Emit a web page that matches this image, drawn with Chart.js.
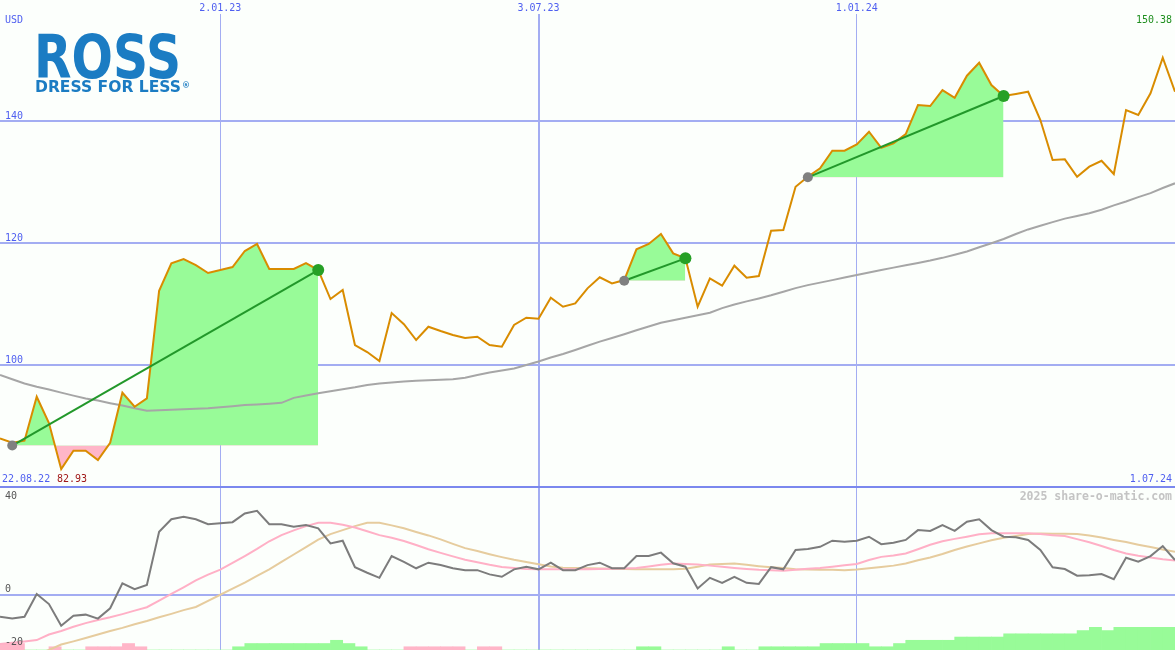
<!DOCTYPE html>
<html>
<head>
<meta charset="utf-8">
<script src="https://cdn.jsdelivr.net/npm/chart.js@4.4.1/dist/chart.umd.min.js"></script>
<style>
  html, body { margin: 0; padding: 0; background: #fcfffc; }
  #wrap { position: relative; width: 1175px; height: 650px; overflow: hidden; background: #fcfffc; }
  canvas { position: absolute; left: 0; display: block; }
  #priceChart { top: 0; }
  #oscChart { top: 488px; }
</style>
</head>
<body>
<div id="wrap">
  <canvas id="priceChart" width="1175" height="488"></canvas>
  <canvas id="oscChart" width="1175" height="162"></canvas>
</div>
<script>
// weekly points, 22.08.22 .. 1.07.24
const xTickIdx = [18, 44, 70];
const xTickLabels = ['2.01.23', '3.07.23', '1.01.24'];
const firstDate = '22.08.22';
const lastDate = '1.07.24';
const priceTicks = [100, 120, 140];
const oscTicks = [40, 0, -20];

const closePrices = [
  87.98, 87.26, 87.59, 94.80, 90.49, 82.93, 85.95, 85.95, 84.43, 87.26,
  95.46, 93.16, 94.54, 112.18, 116.67, 117.38, 116.39, 115.08, 115.57, 116.07,
  118.69, 119.84, 115.74, 115.74, 115.74, 116.72, 115.57, 110.82, 112.30, 103.28,
  102.13, 100.66, 108.52, 106.70, 104.10, 106.28, 105.57, 104.92, 104.43, 104.64,
  103.28, 103.00, 106.56, 107.75, 107.59, 111.03, 109.56, 110.11, 112.57, 114.38,
  113.39, 113.93, 118.97, 119.84, 121.48, 118.31, 117.49, 109.56, 114.21, 113.00,
  116.28, 114.31, 114.59, 122.02, 122.13, 129.23, 130.87, 132.25, 135.13, 135.13,
  136.18, 138.25, 135.62, 136.34, 137.87, 142.62, 142.46, 145.08, 143.82, 147.43,
  149.56, 145.90, 144.10, 144.43, 144.80, 140.16, 133.61, 133.72, 130.87, 132.51,
  133.49, 131.31, 141.80, 140.98, 144.54, 150.38, 144.80
];

const avgLine = [
  98.36, 97.66, 96.98, 96.43, 95.98, 95.48, 94.98, 94.51, 94.18, 93.75,
  93.36, 92.92, 92.51, 92.57, 92.66, 92.74, 92.84, 92.92, 93.07, 93.23,
  93.43, 93.54, 93.67, 93.80, 94.62, 95.00, 95.36, 95.69, 96.02, 96.34,
  96.72, 96.98, 97.15, 97.31, 97.41, 97.49, 97.59, 97.67, 97.93, 98.36,
  98.77, 99.10, 99.44, 100.00, 100.59, 101.23, 101.80, 102.46, 103.15, 103.84,
  104.44, 105.05, 105.70, 106.31, 106.93, 107.34, 107.74, 108.15, 108.57, 109.33,
  109.92, 110.43, 110.92, 111.43, 112.02, 112.61, 113.10, 113.51, 113.92, 114.34,
  114.77, 115.18, 115.57, 115.97, 116.34, 116.74, 117.13, 117.57, 118.08, 118.62,
  119.30, 119.97, 120.66, 121.48, 122.23, 122.82, 123.43, 124.00, 124.44, 124.89,
  125.46, 126.18, 126.80, 127.52, 128.18, 129.02, 129.79
];

// trades: entry / exit week and price
const tradeEntryIdx = [1, 51, 66];
const tradeExitIdx = [26, 56, 82];
const tradeEntryPrice = [86.8, 113.82, 130.77];
const tradeExitPrice = [115.57, 117.49, 144.10];

const oscLine = [
  -8.2, -8.9, -8.2, 0.4, -3.4, -11.6, -7.8, -7.4, -8.9, -5.0,
  4.4, 2.2, 3.8, 23.9, 28.6, 29.5, 28.6, 26.7, 27.1, 27.5,
  30.8, 31.8, 26.7, 26.7, 25.8, 26.4, 25.2, 19.5, 20.5, 10.5,
  8.4, 6.5, 14.7, 12.5, 10.1, 12.2, 11.3, 10.1, 9.4, 9.4,
  7.8, 6.9, 9.7, 10.7, 9.7, 12.2, 9.4, 9.4, 11.3, 12.2,
  10.1, 10.1, 14.7, 14.7, 16.0, 12.0, 10.7, 2.5, 6.5, 4.6,
  6.9, 4.6, 4.2, 10.5, 9.7, 17.0, 17.4, 18.2, 20.5, 20.1,
  20.5, 22.0, 19.2, 19.7, 20.8, 24.5, 24.2, 26.4, 24.2, 27.7,
  28.6, 24.5, 22.0, 21.8, 20.8, 17.0, 10.5, 9.8, 7.3, 7.5,
  7.9, 6.0, 14.1, 12.6, 14.7, 18.5, 13.2
];

const oscSignal = [
  -18.5, -18.0, -17.5, -17.0, -14.9, -13.6, -12.0, -10.6, -9.4, -8.4,
  -7.2, -5.9, -4.6, -2.1, 0.4, 2.9, 5.5, 7.7, 9.6, 12.1,
  14.7, 17.4, 20.3, 22.6, 24.4, 26.0, 27.3, 27.3, 26.5, 25.5,
  24.1, 22.6, 21.6, 20.4, 18.9, 17.3, 15.9, 14.6, 13.3, 12.4,
  11.4, 10.6, 10.2, 9.8, 9.7, 9.7, 9.7, 9.7, 9.7, 9.8,
  9.9, 10.0, 10.2, 10.8, 11.4, 11.9, 11.7, 11.5, 11.1, 10.7,
  10.2, 9.8, 9.5, 9.4, 9.2, 9.5, 9.9, 10.2, 10.7, 11.2,
  11.7, 13.2, 14.4, 14.9, 15.7, 17.3, 19.0, 20.3, 21.2, 22.0,
  22.9, 23.3, 23.3, 23.3, 23.3, 23.0, 22.6, 22.3, 21.1, 19.9,
  18.5, 17.0, 15.7, 14.8, 14.2, 13.5, 13.0
];

const oscSlow = [
  -28.6, -26.7, -24.6, -22.6, -20.7, -18.7, -17.5, -16.2, -14.9, -13.6,
  -12.4, -11.0, -9.8, -8.4, -7.1, -5.7, -4.5, -2.2, 0.1, 2.4,
  4.7, 7.2, 9.7, 12.5, 15.3, 18.1, 20.9, 23.0, 24.5, 26.0,
  27.3, 27.3, 26.3, 25.2, 23.8, 22.5, 21.0, 19.3, 17.7, 16.6,
  15.4, 14.3, 13.3, 12.5, 11.6, 10.8, 10.3, 10.2, 10.1, 10.0,
  9.9, 9.8, 9.7, 9.7, 9.7, 9.7, 9.9, 10.7, 11.5, 11.7,
  11.9, 11.4, 10.9, 10.5, 10.2, 9.7, 9.6, 9.5, 9.5, 9.4,
  9.6, 10.1, 10.6, 11.1, 11.9, 13.1, 14.2, 15.5, 17.0, 18.3,
  19.5, 20.7, 21.6, 22.3, 23.0, 23.2, 23.1, 23.1, 23.0, 22.5,
  21.7, 20.8, 20.0, 19.0, 18.1, 17.2, 16.3
];

// small strength bars along the bottom (negative = pink)
const histBars = [
  -2, -2, 0, 0, -1, 0, 0, -1, -1, -1,
  -2, -1, 0, 0, 0, 0, 0, 0, 0, 1,
  2, 2, 2, 2, 2, 2, 2, 3, 2, 1,
  0, 0, 0, -1, -1, -1, -1, -1, 0, -1,
  -1, 0, 0, 0, 0, 0, 0, 0, 0, 0,
  0, 0, 1, 1, 0, 0, 0, 0, 0, 1,
  0, 0, 1, 1, 1, 1, 1, 2, 2, 2,
  2, 1, 1, 2, 3, 3, 3, 3, 4, 4,
  4, 4, 5, 5, 5, 5, 5, 5, 6, 7,
  6, 7, 7, 7, 7, 7, 7
];

const BG = '#fcfffc';
const GRID = '#a3adf2';
const LBL = '#4f5ff0';
const GREEN_FILL = '#98fb98';
const PINK_FILL = '#ffb6c8';
const FONT = '10px "DejaVu Sans Mono", monospace';

const pts = arr => arr.map((v, i) => ({ x: i, y: v }));
const maxPrice = Math.max(...closePrices);
const minPrice = Math.min(...closePrices);

const xScale = () => ({
  type: 'linear', min: 0, max: 96, offset: false,
  afterBuildTicks: s => { s.ticks = xTickIdx.map(v => ({ value: v })); },
  afterFit: s => { s.height = 0; },
  ticks: { display: false },
  border: { display: false },
  grid: { offset: false, color: GRID, lineWidth: c => (c.index === 1 ? 2 : 1), drawTicks: false }
});

// price panel datasets
const priceSets = [];
tradeEntryIdx.forEach((a, t) => {
  const b = tradeExitIdx[t];
  priceSets.push({
    data: closePrices.slice(a, b + 1).map((v, k) => ({ x: a + k, y: v })),
    borderColor: 'rgba(0,0,0,0)', borderWidth: 0, pointRadius: 0,
    fill: { target: { value: tradeEntryPrice[t] }, above: GREEN_FILL, below: PINK_FILL },
    order: 10
  });
  priceSets.push({
    data: [{ x: a, y: tradeEntryPrice[t] }, { x: b, y: tradeExitPrice[t] }],
    borderColor: '#22982a', borderWidth: 2, fill: false,
    pointRadius: [5, 6], pointBorderWidth: 0,
    pointBackgroundColor: ['#808080', '#26a026'],
    order: 1
  });
});
priceSets.push({
  data: pts(avgLine), borderColor: '#a6a6a6', borderWidth: 2,
  pointRadius: 0, fill: false, order: 4
});
priceSets.push({
  data: pts(closePrices), borderColor: '#d98c00', borderWidth: 2,
  pointRadius: 0, fill: false, order: 3
});

const priceText = {
  id: 'priceText',
  afterDraw(chart) {
    const ctx = chart.ctx, x = chart.scales.x, y = chart.scales.y;
    ctx.save();
    ctx.font = FONT;
    ctx.textBaseline = 'middle';
    // date labels on top
    ctx.textAlign = 'center';
    xTickIdx.forEach((v, i) => {
      const px = x.getPixelForValue(v);
      const w = ctx.measureText(xTickLabels[i]).width;
      ctx.fillStyle = BG;
      ctx.fillRect(px - w / 2 - 1, 0, w + 2, 14);
      ctx.fillStyle = LBL;
      ctx.fillText(xTickLabels[i], px, 8);
    });
    // price labels
    ctx.textAlign = 'left';
    ctx.fillStyle = LBL;
    priceTicks.forEach(v => ctx.fillText(String(v), 5, y.getPixelForValue(v) - 5));
    ctx.fillText('USD', 5, 20);
    ctx.fillText(firstDate, 2, 479);
    ctx.fillStyle = '#a01818';
    ctx.fillText(minPrice.toFixed(2), 57, 479);
    ctx.textAlign = 'right';
    ctx.fillStyle = LBL;
    ctx.fillText(lastDate, 1172, 479);
    ctx.fillStyle = '#1f8f1f';
    ctx.fillText(maxPrice.toFixed(2), 1172, 20);
    // logo
    ctx.textAlign = 'left';
    ctx.textBaseline = 'alphabetic';
    ctx.fillStyle = '#1b7cc3';
    ctx.font = 'bold 60px "DejaVu Sans"';
    ctx.fillText('ROSS', 34, 78, 147);
    ctx.font = 'bold 16px "DejaVu Sans"';
    ctx.fillText('DRESS FOR LESS', 35, 92, 146);
    ctx.font = 'bold 8px "DejaVu Sans"';
    ctx.fillText('®', 182, 88);
    // panel separator
    ctx.fillStyle = '#7b88ee';
    ctx.fillRect(0, 486, chart.width, 2);
    ctx.restore();
  }
};

new Chart(document.getElementById('priceChart'), {
  type: 'line',
  data: { datasets: priceSets },
  options: {
    responsive: false, animation: false, devicePixelRatio: 1,
    layout: { padding: 0, autoPadding: false },
    plugins: { legend: { display: false }, tooltip: { enabled: false } },
    elements: { line: { tension: 0 } },
    scales: {
      x: xScale(),
      y: {
        min: 79.84, max: 159.84,
        afterBuildTicks: s => { s.ticks = priceTicks.map(v => ({ value: v })); },
        afterFit: s => { s.width = 0; },
        ticks: { display: false },
        border: { display: false },
        grid: { color: GRID, lineWidth: 2, drawTicks: false }
      }
    }
  },
  plugins: [priceText]
});

// oscillator panel
const oscText = {
  id: 'oscText',
  afterDraw(chart) {
    const ctx = chart.ctx, y = chart.scales.y;
    ctx.save();
    ctx.font = FONT;
    ctx.textBaseline = 'middle';
    ctx.textAlign = 'left';
    ctx.fillStyle = '#555555';
    oscTicks.forEach(v => {
      const py = Math.max(8, Math.min(155, y.getPixelForValue(v) - 6));
      ctx.fillText(String(v), 5, py);
    });
    ctx.textAlign = 'right';
    ctx.fillStyle = '#c4c4c4';
    ctx.font = 'bold 11.5px "DejaVu Sans Mono", monospace';
    ctx.fillText('2025 share-o-matic.com', 1172, 9);
    ctx.restore();
  }
};

new Chart(document.getElementById('oscChart'), {
  type: 'line',
  data: {
    datasets: [
      {
        type: 'bar', yAxisID: 'yb',
        data: histBars.map((v, i) => ({ x: i + 0.5, y: Math.abs(v) })),
        backgroundColor: histBars.map(v => (v < 0 ? PINK_FILL : GREEN_FILL)),
        borderWidth: 0, barPercentage: 1, categoryPercentage: 1, order: 10
      },
      { data: pts(oscSlow), borderColor: '#e6cc9e', borderWidth: 2, pointRadius: 0, fill: false, order: 4 },
      { data: pts(oscSignal), borderColor: '#ffb0c6', borderWidth: 2, pointRadius: 0, fill: false, order: 3 },
      { data: pts(oscLine), borderColor: '#7c7c7c', borderWidth: 2, pointRadius: 0, fill: false, order: 2 }
    ]
  },
  options: {
    responsive: false, animation: false, devicePixelRatio: 1,
    layout: { padding: 0, autoPadding: false },
    plugins: { legend: { display: false }, tooltip: { enabled: false } },
    elements: { line: { tension: 0 } },
    scales: {
      x: xScale(),
      y: {
        min: -20.75, max: 40.4,
        afterBuildTicks: s => { s.ticks = [{ value: 0 }]; },
        afterFit: s => { s.width = 0; },
        ticks: { display: false },
        border: { display: false },
        grid: { color: GRID, lineWidth: 2, drawTicks: false }
      },
      yb: {
        display: false, min: 0, max: 50,
        afterFit: s => { s.width = 0; }
      }
    }
  },
  plugins: [oscText]
});
</script>
</body>
</html>
